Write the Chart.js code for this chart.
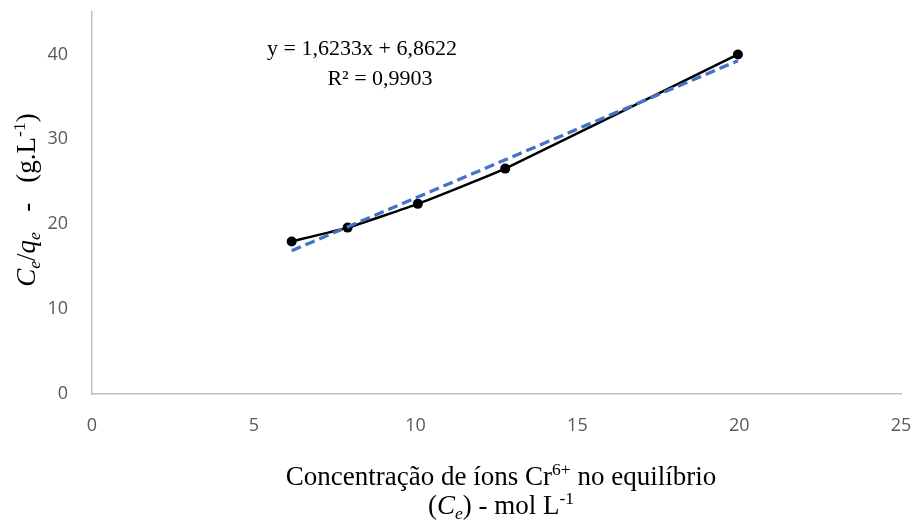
<!DOCTYPE html>
<html>
<head>
<meta charset="utf-8">
<script src="https://cdn.jsdelivr.net/npm/chart.js@4.4.1/dist/chart.umd.min.js"></script>
<style>
  html, body { margin: 0; padding: 0; background: #fff; }
  #wrap { width: 914px; height: 524px; }
</style>
</head>
<body>
<div id="wrap"><canvas id="myChart" width="914" height="524"></canvas></div>
<script>
// valores
const concentracao = [6.17, 7.90, 10.07, 12.77, 19.96];   // Ce
const ceQe = [17.97, 19.6, 22.4, 26.55, 40.0];            // Ce/qe
const xTicks = [0, 5, 10, 15, 20, 25];
const yTicks = [0, 10, 20, 30, 40];
const inclinacao = 1.6233;
const intercepto = 6.8622;
const equacaoTxt = 'y = 1,6233x + 6,8622';
const r2Txt = 'R² = 0,9903';

const pontos = concentracao.map((x, i) => ({ x: x, y: ceQe[i] }));
const xMin = Math.min(...concentracao);
const xMax = Math.max(...concentracao);
const tendencia = [xMin, xMax].map(x => ({ x: x, y: inclinacao * x + intercepto }));

const serif = '"Liberation Serif", "Times New Roman", serif';

// desenha texto com partes em itálico, subscrito e sobrescrito
function drawRuns(ctx, runs, x, y, size, align) {
    let total = 0;
    runs.forEach(r => {
        const s = r.sub || r.sup ? size * 0.65 : size;
        ctx.font = (r.it ? 'italic ' : '') + s + 'px ' + serif;
        r.w = ctx.measureText(r.t).width;
        r.s = s;
        total += r.w;
    });
    let cx = align === 'center' ? x - total / 2 : x;
    ctx.textAlign = 'left';
    ctx.textBaseline = 'alphabetic';
    runs.forEach(r => {
        ctx.font = (r.it ? 'italic ' : '') + r.s + 'px ' + serif;
        let dy = 0;
        if (r.sub) dy = size * 0.2;
        if (r.sup) dy = -size * 0.38;
        ctx.fillText(r.t, cx, y + dy);
        cx += r.w;
    });
}

const titulos = {
    id: 'titulos',
    afterDraw(chart) {
        const ctx = chart.ctx;
        ctx.save();
        ctx.fillStyle = '#000';

        // equação da linha de tendência
        ctx.font = '22px ' + serif;
        ctx.textAlign = 'center';
        ctx.textBaseline = 'middle';
        ctx.fillText(equacaoTxt, 362, 49);
        ctx.fillText(r2Txt, 380, 79);

        // título do eixo x
        drawRuns(ctx, [
            { t: 'Concentração de íons Cr' },
            { t: '6+', sup: true },
            { t: ' no equilíbrio' }
        ], 501, 485, 27, 'center');
        drawRuns(ctx, [
            { t: '(' },
            { t: 'C', it: true },
            { t: 'e', it: true, sub: true },
            { t: ') - mol L' },
            { t: '-1', sup: true }
        ], 501, 514, 27, 'center');

        // título do eixo y
        ctx.translate(35, 200);
        ctx.rotate(-Math.PI / 2);
        drawRuns(ctx, [
            { t: 'C', it: true },
            { t: 'e', it: true, sub: true },
            { t: '/' },
            { t: 'q', it: true },
            { t: 'e', it: true, sub: true },
            { t: '   -   (g.L' },
            { t: '-1', sup: true },
            { t: ')' }
        ], 0, 0, 27, 'center');
        ctx.restore();
    }
};

const tickFont = { family: '"Open Sans", sans-serif', size: 18 };

new Chart(document.getElementById('myChart').getContext('2d'), {
    type: 'scatter',
    data: {
        datasets: [{
            label: 'Ce/qe',
            data: pontos,
            showLine: true,
            borderColor: '#000',
            backgroundColor: '#000',
            borderWidth: 2.5,
            pointRadius: 5,
            pointBorderWidth: 0,
            tension: 0.12,
            order: 1
        }, {
            label: 'Linear',
            data: tendencia,
            showLine: true,
            borderColor: '#4472C4',
            borderWidth: 3.3,
            borderDash: [10, 5],
            pointRadius: 0,
            order: 0
        }]
    },
    options: {
        responsive: false,
        animation: false,
        layout: { padding: { left: 0, right: 13, top: 12, bottom: 0 } },
        plugins: {
            legend: { display: false },
            tooltip: { enabled: false }
        },
        scales: {
            x: {
                type: 'linear',
                min: 0,
                max: 25,
                afterBuildTicks: s => { s.ticks = xTicks.map(v => ({ value: v })); },
                afterFit: s => { s.height = 130; s.paddingLeft = 0; s.paddingRight = 0; },
                grid: { display: false, drawTicks: false },
                border: { color: '#BFBFBF', width: 1.5 },
                ticks: { color: '#595959', font: tickFont, padding: 21 }
            },
            y: {
                type: 'linear',
                min: 0,
                max: 45,
                afterBuildTicks: s => { s.ticks = yTicks.map(v => ({ value: v })); },
                afterFit: s => { s.width = 92; s.paddingTop = 0; s.paddingBottom = 0; },
                grid: { display: false, drawTicks: false },
                border: { color: '#BFBFBF', width: 1.5 },
                ticks: { color: '#595959', font: tickFont, padding: 24 }
            }
        }
    },
    plugins: [titulos]
});
</script>
</body>
</html>
